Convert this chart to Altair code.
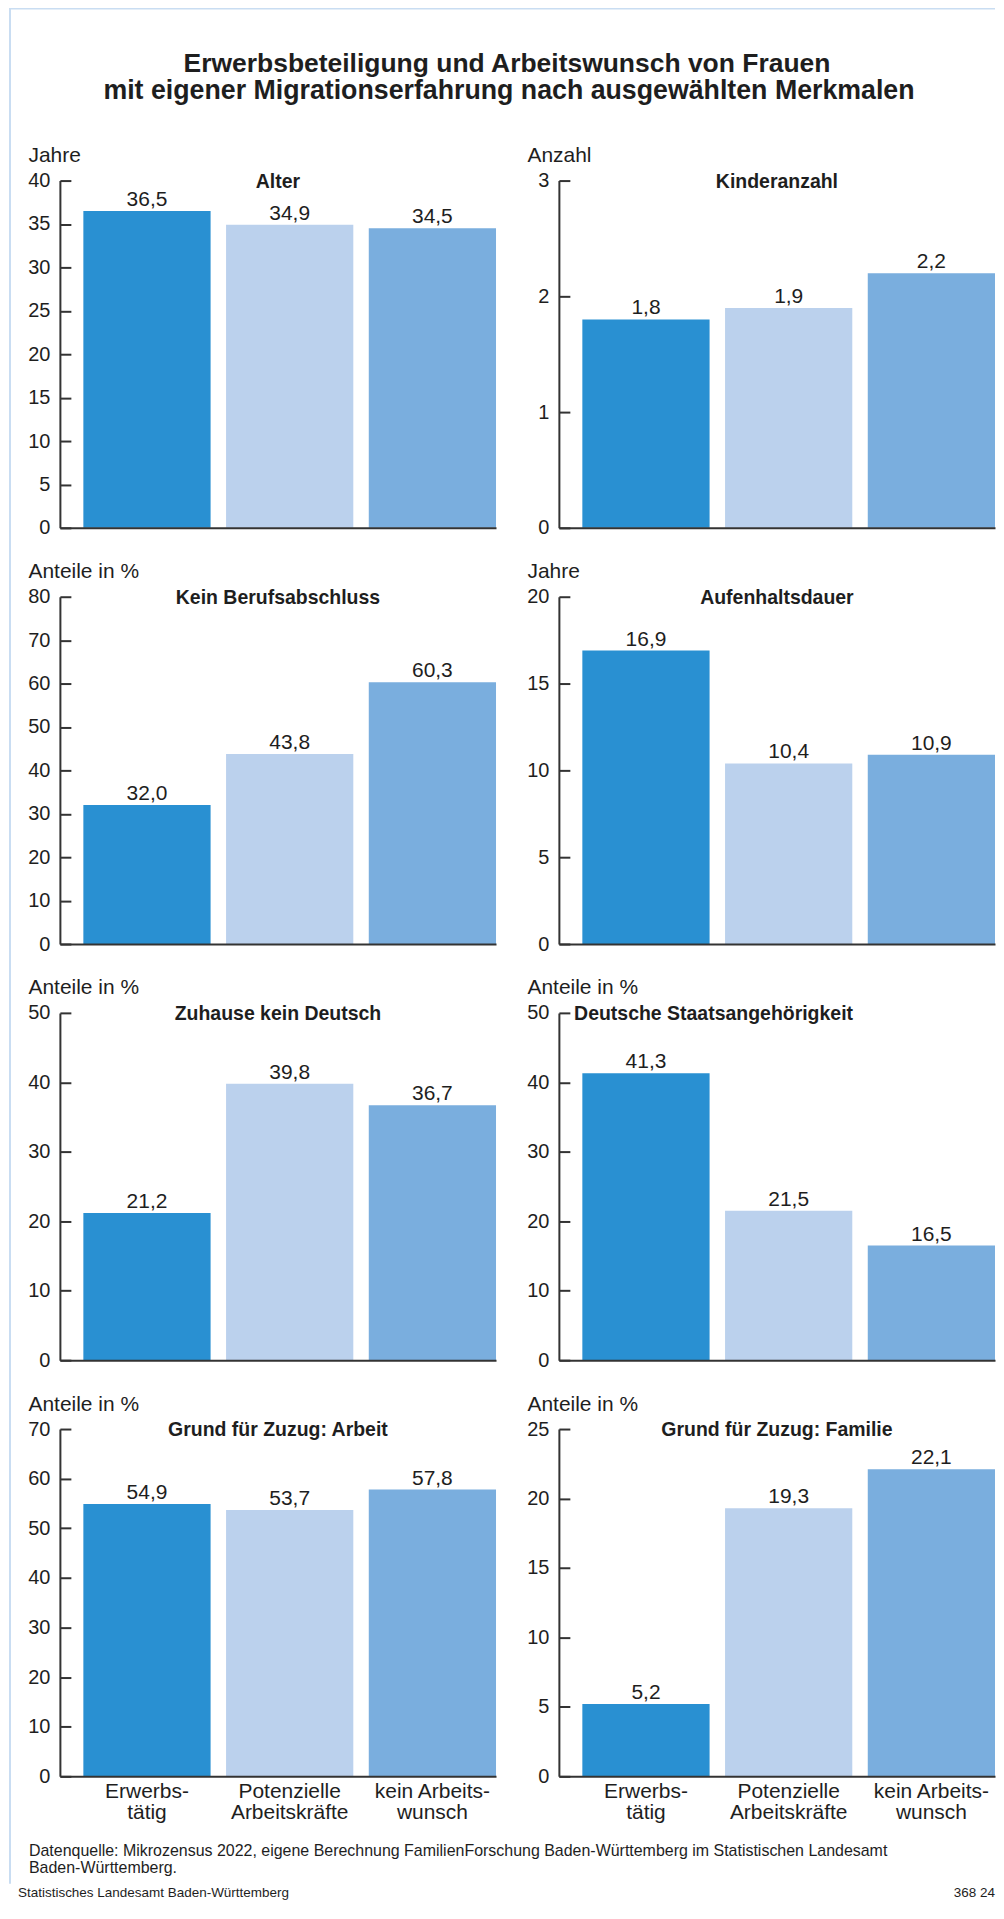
import altair as alt
import pandas as pd

# ---------------- data ----------------
groups = ["Erwerbs-|tätig", "Potenzielle|Arbeitskräfte", "kein Arbeits-|wunsch"]
bar_colors = ["#2990d2", "#bbd1ed", "#7aaede"]

titles = [
    "Alter", "Kinderanzahl",
    "Kein Berufsabschluss", "Aufenhaltsdauer",
    "Zuhause kein Deutsch", "Deutsche Staatsangehörigkeit",
    "Grund für Zuzug: Arbeit", "Grund für Zuzug: Familie",
]
units = ["Jahre", "Anzahl", "Anteile in %", "Jahre",
         "Anteile in %", "Anteile in %", "Anteile in %", "Anteile in %"]

alter = [36.5, 34.9, 34.5]
kinderanzahl = [1.8, 1.9, 2.2]
kein_berufsabschluss = [32.0, 43.8, 60.3]
aufenthaltsdauer = [16.9, 10.4, 10.9]
zuhause_kein_deutsch = [21.2, 39.8, 36.7]
deutsche_staatsangehoerigkeit = [41.3, 21.5, 16.5]
zuzug_arbeit = [54.9, 53.7, 57.8]
zuzug_familie = [5.2, 19.3, 22.1]

series = [alter, kinderanzahl, kein_berufsabschluss, aufenthaltsdauer,
          zuhause_kein_deutsch, deutsche_staatsangehoerigkeit,
          zuzug_arbeit, zuzug_familie]

y_max = [40, 3, 80, 20, 50, 50, 70, 25]
y_ticks = [
    [0, 5, 10, 15, 20, 25, 30, 35, 40],
    [0, 1, 2, 3],
    [0, 10, 20, 30, 40, 50, 60, 70, 80],
    [0, 5, 10, 15, 20],
    [0, 10, 20, 30, 40, 50],
    [0, 10, 20, 30, 40, 50],
    [0, 10, 20, 30, 40, 50, 60, 70],
    [0, 5, 10, 15, 20, 25],
]

main_title = ["Erwerbsbeteiligung und Arbeitswunsch von Frauen",
              "mit eigener Migrationserfahrung nach ausgewählten Merkmalen"]
source_lines = ["Datenquelle: Mikrozensus 2022, eigene Berechnung FamilienForschung Baden-Württemberg im Statistischen Landesamt",
                "Baden-Württemberg."]
publisher = "Statistisches Landesamt Baden-Württemberg"
code = "368 24"

# ---------------- style ----------------
FONT = "Liberation Sans"
TXT = "#1e1e1e"
AX = "#333333"
BORDER = "#c9ddf2"
W, H = 437, 348
title_cx = [218.5, 218.5, 218.5, 218.5, 218.5, 155, 218.5, 218.5]


def fmt(v):
    return f"{v:.1f}".replace(".", ",")


def one(val=0):
    return alt.Chart(pd.DataFrame({"k": [val]}))


def panel(i, show_x_labels, extras=None):
    df = pd.DataFrame({
        "Gruppe": groups,
        "Wert": series[i],
        "Label": [fmt(v) for v in series[i]],
    })
    x = alt.X(
        "Gruppe:N", sort=groups,
        scale=alt.Scale(paddingInner=0.1084, paddingOuter=0.0822, align=1),
        axis=alt.Axis(
            title=None, labels=show_x_labels, ticks=False, grid=False,
            domain=True, domainColor=AX, domainWidth=2,
            labelExpr="split(datum.label, '|')", labelAngle=0,
            labelFontSize=21, labelLineHeight=21.5, labelPadding=4,
            labelBaseline="top", labelColor=TXT, labelFont=FONT, zindex=1,
        ),
    )
    y = alt.Y(
        "Wert:Q",
        scale=alt.Scale(domain=[0, y_max[i]], nice=False, zero=True),
        axis=alt.Axis(
            values=y_ticks[i], format="d", title=units[i], titleAngle=0, titleAlign="left",
            titleX=-32, titleY=-25, titleBaseline="middle", titleFontSize=21,
            titleFontWeight="normal", titleColor=TXT, titleFont=FONT,
            labelFontSize=20, labelPadding=10, labelColor=TXT, labelFont=FONT,
            labelFlush=False, labelOverlap=False, labelBaseline="middle",
            ticks=False, grid=True, gridDash=[11, 3000], gridColor=AX,
            gridWidth=2, gridOpacity=1, domain=True, domainColor=AX,
            domainWidth=2, zindex=1,
        ),
    )
    base = alt.Chart(df)
    bars = base.mark_bar().encode(
        x=x, y=y,
        color=alt.Color("Gruppe:N", scale=alt.Scale(domain=groups, range=bar_colors), legend=None),
    )
    labels = base.mark_text(dy=-5, baseline="alphabetic", fontSize=21, color=TXT, font=FONT).encode(
        x=alt.X("Gruppe:N", sort=groups), y="Wert:Q", text="Label:N"
    )
    head = one().mark_text(fontSize=19.5, fontWeight="bold", color=TXT, font=FONT,
                           baseline="middle", align="center").encode(
        x=alt.value(title_cx[i]), y=alt.value(1), text=alt.value(titles[i])
    )
    layers = [bars, labels, head]
    if extras:
        layers += extras
    return alt.layer(*layers).properties(width=W, height=H)


# decorations relative to the top-left panel's plot origin
OX, OY = 51, 173.3  # panel origin inside the svg
deco = [
    one().mark_rule(color=BORDER, strokeWidth=2).encode(
        x=alt.value(-OX + 1), y=alt.value(-OY), y2=alt.value(1880 - OY)),
    one().mark_rule(color=BORDER, strokeWidth=2).encode(
        x=alt.value(-OX), x2=alt.value(988 - OX), y=alt.value(-OY + 1)),
    one().mark_text(fontSize=26.5, fontWeight="bold", color=TXT, font=FONT,
                    align="center", baseline="middle").encode(
        x=alt.value(499 - OX), y=alt.value(57 - OY), text=alt.value(main_title[0])),
    one().mark_text(fontSize=26.8, fontWeight="bold", color=TXT, font=FONT,
                    align="center", baseline="middle").encode(
        x=alt.value(501 - OX), y=alt.value(84 - OY), text=alt.value(main_title[1])),
    one().mark_text(fontSize=16, color=TXT, font=FONT, align="left", baseline="middle").encode(
        x=alt.value(20 - OX), y=alt.value(1847 - OY), text=alt.value(source_lines[0])),
    one().mark_text(fontSize=16, color=TXT, font=FONT, align="left", baseline="middle").encode(
        x=alt.value(20 - OX), y=alt.value(1864 - OY), text=alt.value(source_lines[1])),
    one().mark_text(fontSize=13.5, color=TXT, font=FONT, align="left", baseline="middle").encode(
        x=alt.value(9 - OX), y=alt.value(1889 - OY), text=alt.value(publisher)),
    one().mark_text(fontSize=13.5, color=TXT, font=FONT, align="right", baseline="middle").encode(
        x=alt.value(988 - OX), y=alt.value(1889 - OY), text=alt.value(code)),
]

p = [panel(i, show_x_labels=(i >= 6), extras=(deco if i == 0 else None)) for i in range(8)]

chart = alt.concat(
    *p, columns=2, spacing={"row": 69, "column": 63}, bounds="flush",
    padding={"top": -4, "left": 0, "right": 0, "bottom": 0},
).configure(font=FONT, background="white").configure_view(stroke=None)

chart.save("out.html", embed_options={"renderer": "svg", "actions": False})
